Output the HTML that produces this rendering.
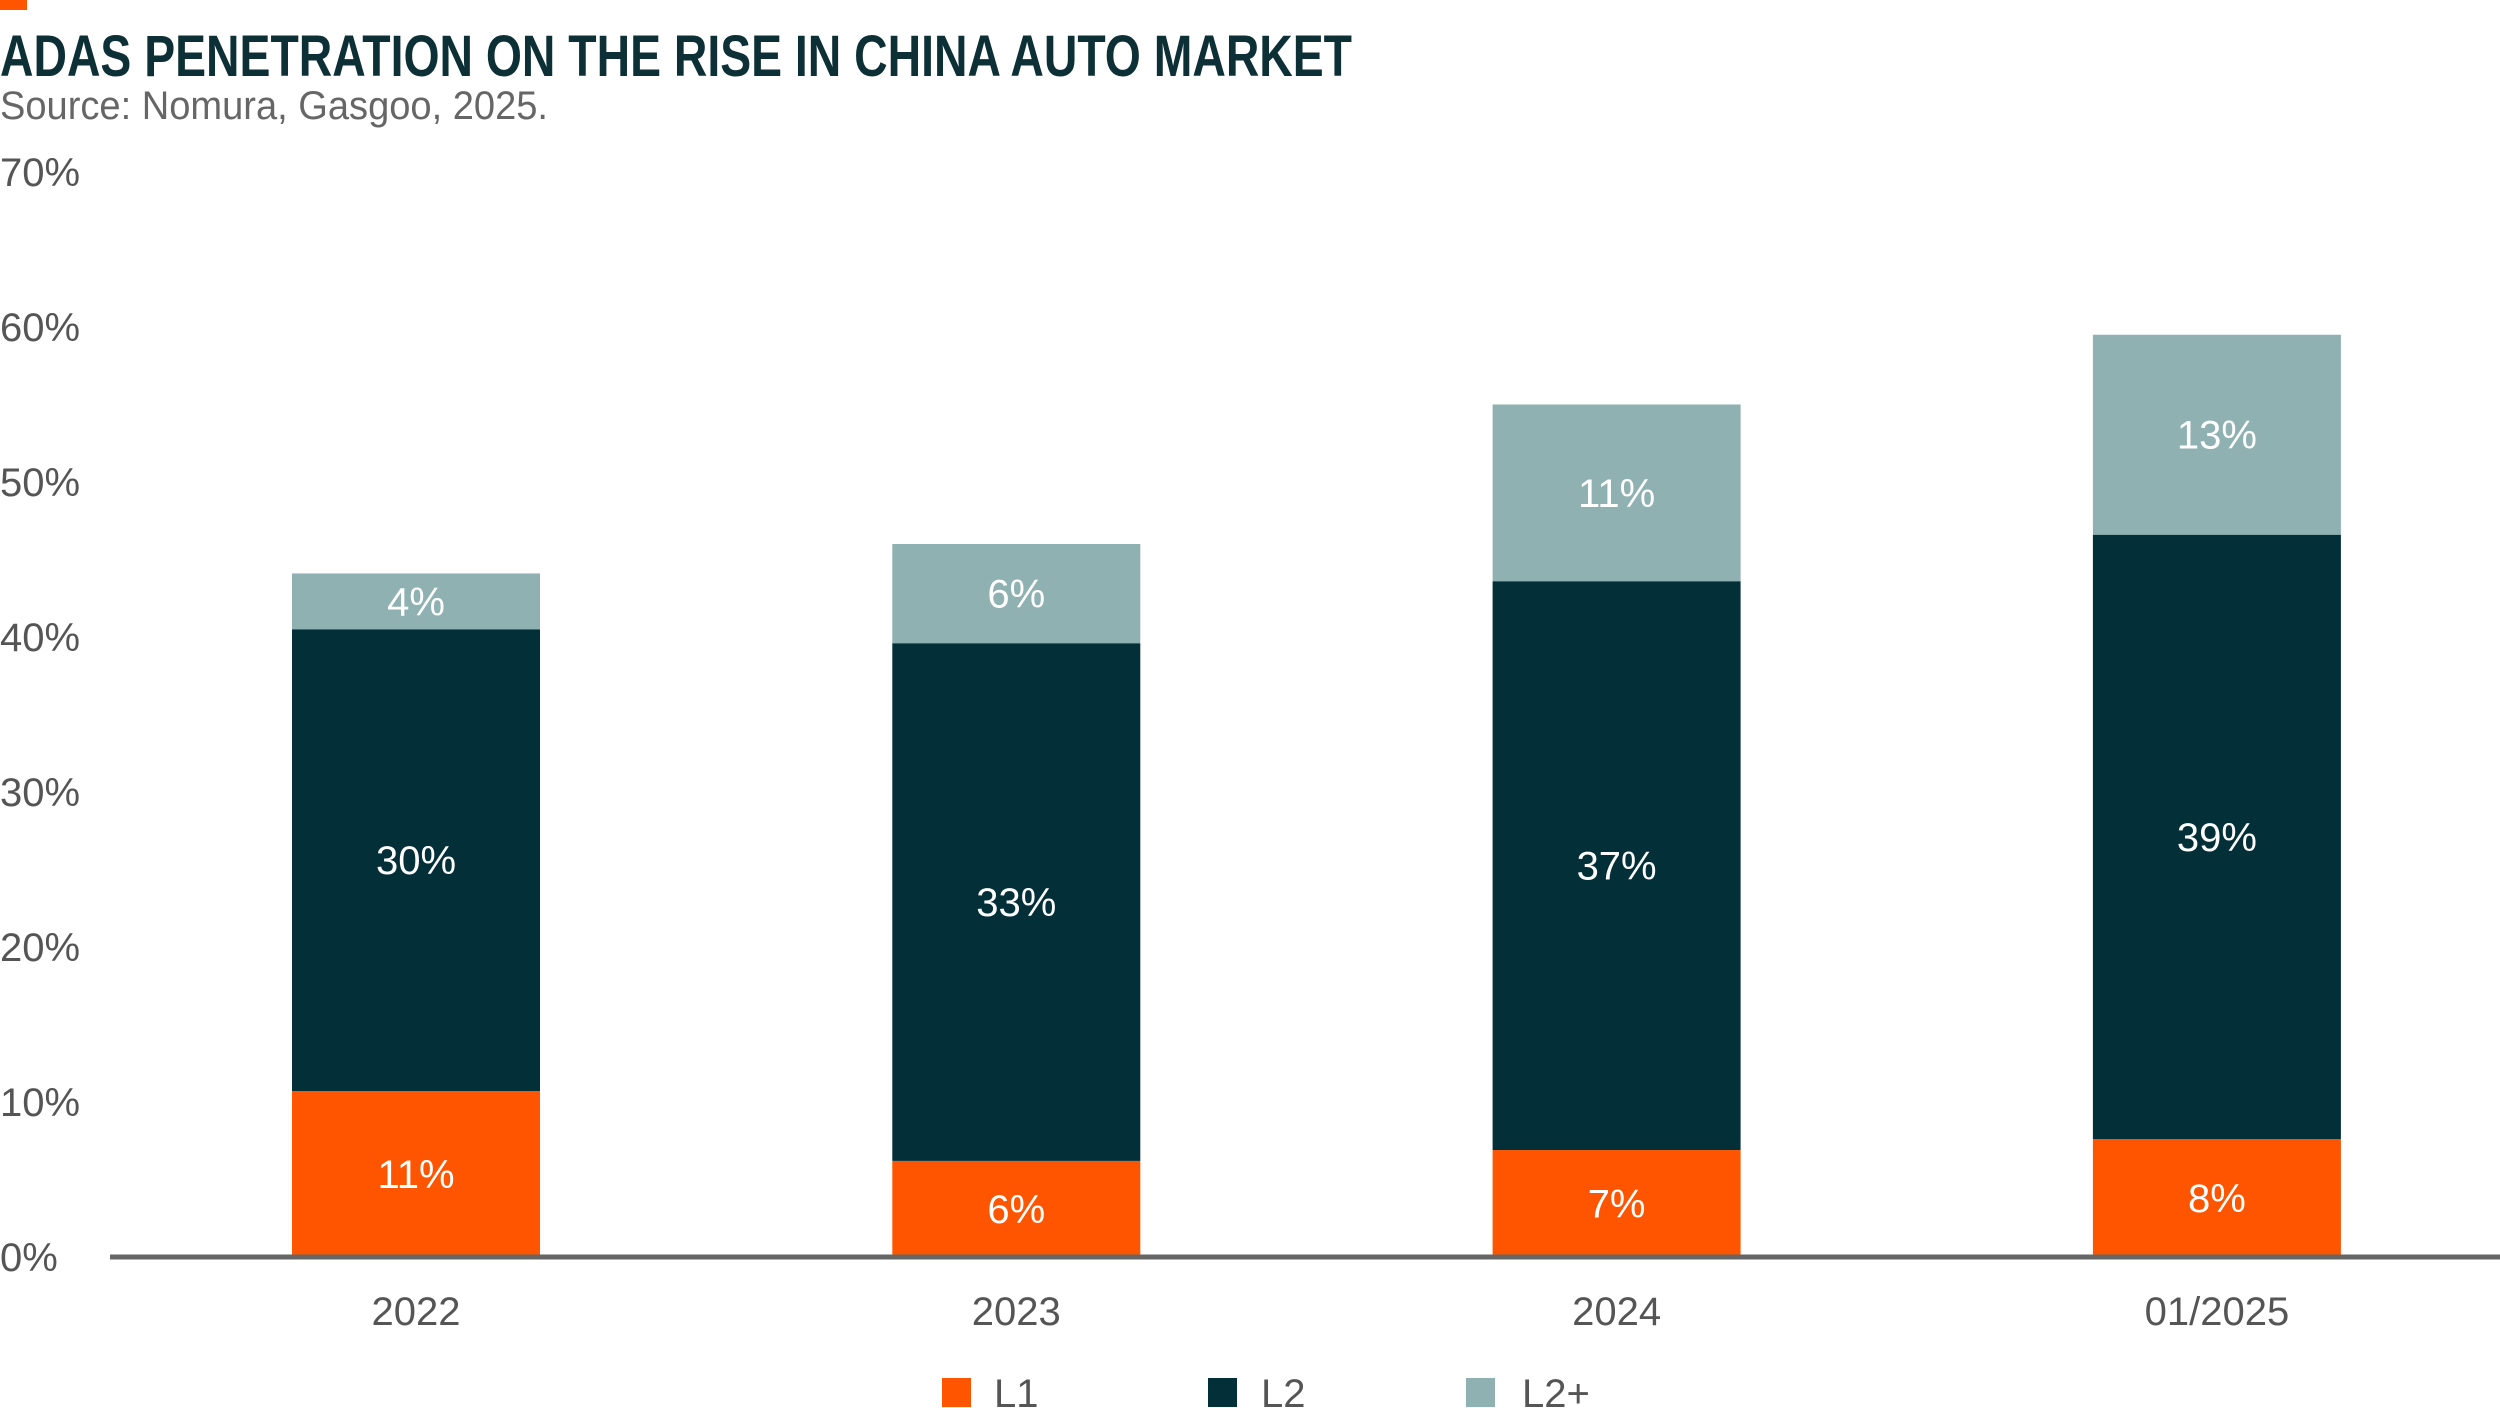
<!DOCTYPE html>
<html><head><meta charset="utf-8"><style>
html,body{margin:0;padding:0;background:#fff;}
svg{display:block;font-family:"Liberation Sans Narrow","Liberation Sans",sans-serif;}
</style></head><body>
<svg id="chart" width="2500" height="1408" viewBox="0 0 2500 1408" xmlns="http://www.w3.org/2000/svg">
<rect x="0" y="0" width="27" height="10" fill="#FF5500"/>
<text x="0" y="76" font-size="58" font-weight="bold" fill="#0D2F36" textLength="1352" lengthAdjust="spacingAndGlyphs">ADAS PENETRATION ON THE RISE IN CHINA AUTO MARKET</text>
<text x="0" y="119" font-size="40" fill="#666" textLength="548" lengthAdjust="spacingAndGlyphs">Source: Nomura, Gasgoo, 2025.</text>
<g id="yaxis"></g><g id="bars"></g><g id="xaxis"></g>
<line x1="110" y1="1257" x2="2500" y2="1257" stroke="#666" stroke-width="5"/>
<g>
<rect x="942" y="1378" width="29" height="29" fill="#FF5500"/>
<text x="994" y="1407" font-size="40" fill="#555">L1</text>
<rect x="1208" y="1378" width="29" height="29" fill="#022F38"/>
<text x="1261" y="1407" font-size="40" fill="#555">L2</text>
<rect x="1466" y="1378" width="29" height="29" fill="#8FB1B1"/>
<text x="1522" y="1407" font-size="40" fill="#555">L2+</text>
</g>
</svg>
<script>
const categories = ["2022","2023","2024","01/2025"];
const l1 = [10.7, 6.2, 6.9, 7.6];
const l2 = [29.8, 33.4, 36.7, 39.0];
const l2plus = [3.6, 6.4, 11.4, 12.9];
const yTicks = [0,10,20,30,40,50,60,70];
const NS = "http://www.w3.org/2000/svg";
const y = v => 1257 - v * 15.5;
const xc = i => 416 + i * 600.3;
const barW = 248;
function mk(tag, attrs, parent){const e=document.createElementNS(NS,tag);for(const k in attrs)e.setAttribute(k,attrs[k]);parent.appendChild(e);return e;}
const ya=document.getElementById('yaxis'), bg=document.getElementById('bars'), xa=document.getElementById('xaxis');
yTicks.forEach(t=>{
  const e=mk('text',{x:0,y:y(t)+14,'font-size':40,fill:'#555'},ya);
  
  
  e.textContent=t+'%';
});
const series=[[l1,'#FF5500','l1'],[l2,'#022F38','l2'],[l2plus,'#8FB1B1','l2plus']];
categories.forEach((c,i)=>{
  let base=0;
  series.forEach(([arr,col,nm])=>{
    const v=arr[i];
    const r=mk('rect',{x:xc(i)-barW/2,y:y(base+v),width:barW,height:y(base)-y(base+v),fill:col},bg);
    
    
    const t=mk('text',{x:xc(i),y:y(base+v/2)+14,'font-size':40,fill:'#fff','text-anchor':'middle'},bg);
    
    
    t.textContent=Math.round(v)+'%';
    base+=v;
  });
  const xl=mk('text',{x:xc(i),y:1325,'font-size':40,fill:'#555','text-anchor':'middle'},xa);
  
  
  xl.textContent=c;
});
</script>
</body></html>
